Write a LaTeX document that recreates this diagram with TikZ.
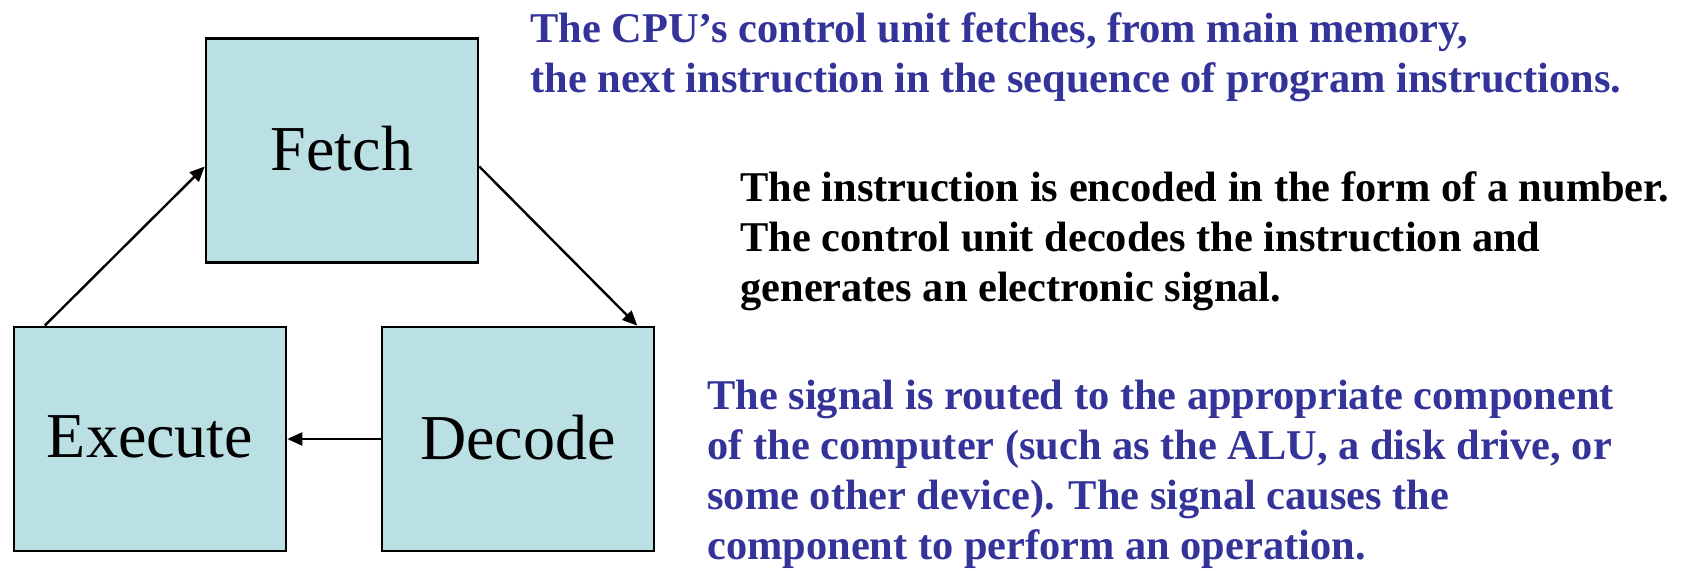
\documentclass[tikz,border=0pt]{standalone}
\usepackage{fontspec}
\setmainfont{Liberation Serif}
\usetikzlibrary{arrows.meta,calc}
\definecolor{stagefill}{RGB}{187,224,227}
\definecolor{noteblue}{RGB}{51,51,153}
\begin{document}
\begin{tikzpicture}[x=0.5pt,y=-0.5pt,
  stagebox/.style={draw=black,line width=1.3pt,fill=stagefill,
    minimum width=136pt,minimum height=112pt,inner sep=0pt,
    text depth=2pt,font=\fontsize{32}{38}\selectfont},
  flow/.style={line width=1.2pt,-{Triangle[length=7.5pt,width=6.5pt]}},
  note/.style={anchor=base west,inner sep=0pt,
    font=\fontsize{21.2}{25}\selectfont\bfseries}]
\useasboundingbox (0,0) rectangle (1683,571);

% the three stages of the cycle
\node[stagebox] (fetch) at (342,150.5) {Fetch};
\node[stagebox] (exec)  at (150,439)   {Execute};
\node[stagebox] (dec)   at (518,439)   {Decode};

% cycle arrows
\draw[flow] ([xshift=16pt]exec.north west) -- ([yshift=-8pt]fetch.west);
\draw[flow] ([yshift=-8pt]fetch.east) -- ([xshift=-9pt]dec.north east);
\draw[flow] (dec.west) -- (exec.east);

% explanations
\node[note,text=noteblue] (fetchnote) at (530,42.3)
  {\begin{tabular}[t]{@{}l@{}}The CPU’s control unit fetches, from main memory,\\
   the next instruction in the sequence of program instructions.\end{tabular}};
\node[note,text=black] (decnote) at (740,201.7)
  {\begin{tabular}[t]{@{}l@{}}The instruction is encoded in the form of a number.\\
   The control unit decodes the instruction and\\
   generates an electronic signal.\end{tabular}};
\node[note,text=noteblue] (execnote) at (707,410)
  {\begin{tabular}[t]{@{}l@{}}The signal is routed to the appropriate component\\
   of the computer (such as the ALU, a disk drive, or\\
   some other device). The signal causes the\\
   component to perform an operation.\end{tabular}};
\end{tikzpicture}
\end{document}
